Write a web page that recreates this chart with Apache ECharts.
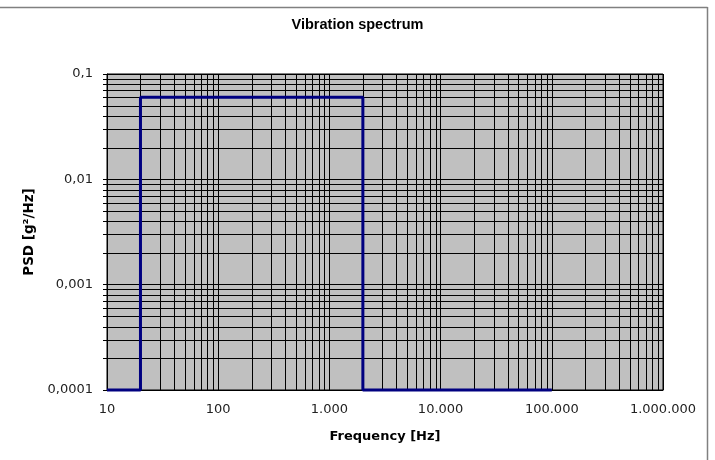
<!DOCTYPE html>
<html>
<head>
<meta charset="utf-8">
<script src="https://cdn.jsdelivr.net/npm/echarts@6/dist/echarts.min.js"></script>
<style>
  html, body { margin: 0; padding: 0; background: #fff; }
  #chart { width: 715px; height: 460px; }
</style>
</head>
<body>
<div id="chart"></div>
<script>
// spectrum profile (Hz, g^2/Hz)
const freq = [10, 20, 20, 2000, 2000, 100000];
const psd = [0.0001, 0.0001, 0.06, 0.06, 0.0001, 0.0001];

// axis ticks and labels
const xTicks = [10, 100, 1000, 10000, 100000, 1000000];
const xTickLabels = ['10', '100', '1.000', '10.000', '100.000', '1.000.000'];
const yTicks = [0.0001, 0.001, 0.01, 0.1];
const yTickLabels = ['0,0001', '0,001', '0,01', '0,1'];

const xMin = 10, xMax = 1000000;
const yMin = 0.0001, yMax = 0.1;

// minor grid values 2..9 of each decade
const minorOf = (ticks) => {
  const out = [];
  for (let i = 0; i < ticks.length - 1; i++) {
    for (let k = 2; k <= 9; k++) out.push(Number((ticks[i] * k).toPrecision(6)));
  }
  return out;
};
const xMinor = minorOf(xTicks);
const yMinor = minorOf(yTicks);

const crisp = (v) => Math.round(v) + 0.5;
const tickLabel = (ticks, labels) => (v) => {
  const i = ticks.findIndex((t) => Math.abs(Math.log10(t) - Math.log10(v)) < 1e-6);
  return i >= 0 ? labels[i] : '';
};

const chart = echarts.init(document.getElementById('chart'));

chart.setOption({
  animation: false,
  textStyle: { fontFamily: 'DejaVu Sans, sans-serif' },
  title: {
    text: 'Vibration spectrum',
    left: 'center',
    top: 12,
    textStyle: {
      fontFamily: 'Liberation Sans, Arial, sans-serif',
      fontSize: 14.5,
      fontWeight: 'bold',
      color: '#000'
    }
  },
  graphic: [
    { type: 'line', shape: { x1: 0, y1: 7.5, x2: 707.5, y2: 7.5 }, style: { stroke: '#808080', lineWidth: 1.5 } },
    { type: 'line', shape: { x1: 707.5, y1: 7, x2: 707.5, y2: 460 }, style: { stroke: '#808080', lineWidth: 1.5 } }
  ],
  grid: {
    left: 107,
    right: 52,
    top: 74,
    bottom: 70,
    show: true,
    backgroundColor: '#c0c0c0',
    borderColor: '#000',
    borderWidth: 1
  },
  xAxis: {
    type: 'log',
    logBase: 10,
    min: xMin,
    max: xMax,
    name: 'Frequency [Hz]',
    nameLocation: 'middle',
    nameGap: 40,
    nameTextStyle: { fontSize: 13, fontWeight: 'bold', color: '#000' },
    axisLine: { show: true, lineStyle: { color: '#000', width: 1 } },
    axisTick: { show: false },
    axisLabel: { fontSize: 13, color: '#222', margin: 13, formatter: tickLabel(xTicks, xTickLabels) },
    splitLine: { show: true, lineStyle: { color: '#000', width: 1 } }
  },
  yAxis: {
    type: 'log',
    logBase: 10,
    min: yMin,
    max: yMax,
    name: 'PSD [g²/Hz]',
    nameLocation: 'middle',
    nameGap: 70,
    nameTextStyle: { fontSize: 13.5, fontWeight: 'bold', color: '#000' },
    axisLine: { show: true, lineStyle: { color: '#000', width: 1 } },
    axisTick: { show: true, length: 4, lineStyle: { color: '#000' } },
    axisLabel: { fontSize: 13, color: '#222', margin: 14, formatter: tickLabel(yTicks, yTickLabels) },
    splitLine: { show: true, lineStyle: { color: '#000', width: 1 } }
  },
  series: [
    {
      // vertical minor grid lines
      type: 'custom',
      silent: true,
      z: 1,
      data: xMinor.map((v) => [v, yMin]),
      renderItem: (params, api) => {
        const p1 = api.coord([api.value(0), yMin]);
        const p2 = api.coord([api.value(0), yMax]);
        const x = crisp(p1[0]);
        return { type: 'line', shape: { x1: x, y1: p1[1], x2: x, y2: p2[1] }, style: { stroke: '#000', lineWidth: 1 } };
      }
    },
    {
      // horizontal minor grid lines plus short ticks outside left
      type: 'custom',
      silent: true,
      z: 1,
      clip: false,
      data: yMinor.map((v) => [xMin, v]),
      renderItem: (params, api) => {
        const p1 = api.coord([xMin, api.value(1)]);
        const p2 = api.coord([xMax, api.value(1)]);
        const y = crisp(p1[1]);
        return {
          type: 'group',
          children: [
            { type: 'line', shape: { x1: p1[0], y1: y, x2: p2[0], y2: y }, style: { stroke: '#000', lineWidth: 1 } },
            { type: 'line', shape: { x1: p1[0] - 4, y1: y, x2: p1[0], y2: y }, style: { stroke: '#000', lineWidth: 1 } }
          ]
        };
      }
    },
    {
      type: 'line',
      z: 5,
      clip: false,
      symbol: 'none',
      silent: true,
      data: freq.map((f, i) => [f, psd[i]]),
      lineStyle: { color: '#000080', width: 3 }
    }
  ]
});
</script>
</body>
</html>
